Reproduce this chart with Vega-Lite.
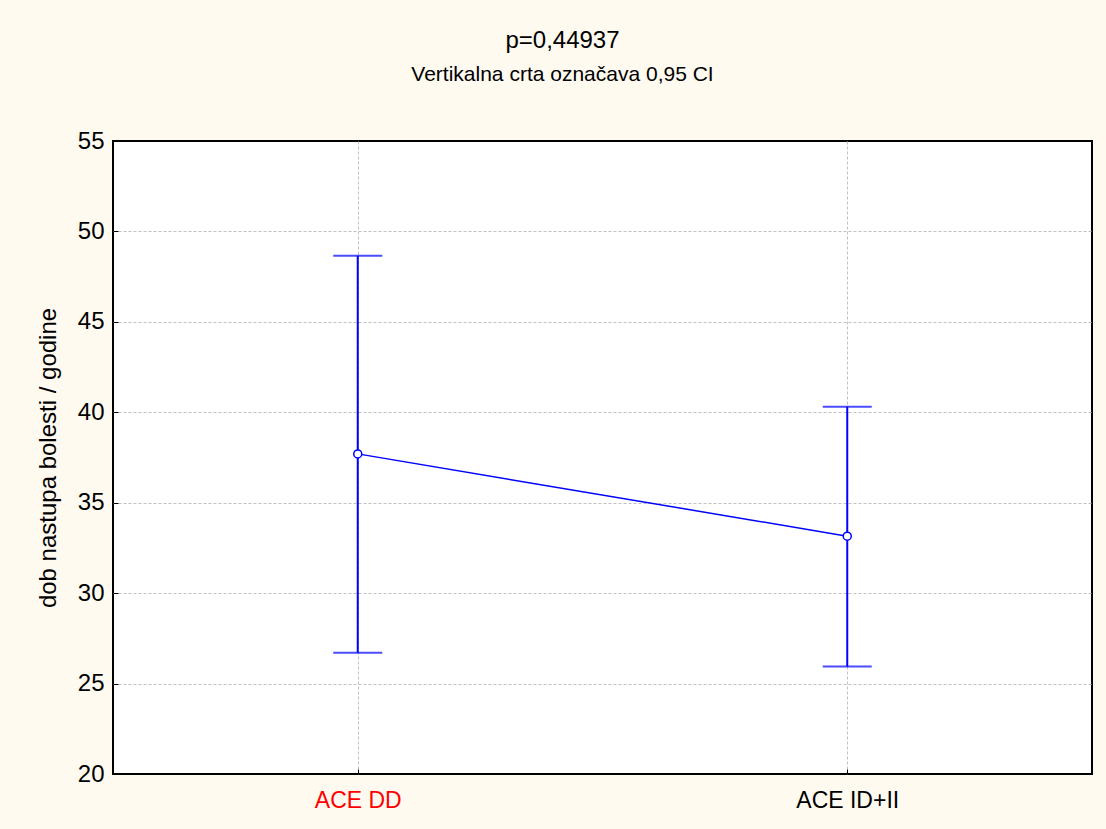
{
  "$schema": "https://vega.github.io/schema/vega-lite/v6.json",
  "width": 979,
  "height": 633,
  "autosize": {"type": "none"},
  "padding": {"left": 113, "top": 141, "right": 14, "bottom": 55},
  "background": "#fffaf0",
  "config": {
    "view": {"fill": "white", "stroke": "black", "strokeWidth": 2},
    "font": "Liberation Sans"
  },
  "title": {
    "text": "p=0,44937",
    "subtitle": "Vertikalna crta označava 0,95 CI",
    "fontSize": 24,
    "subtitleFontSize": 21,
    "fontWeight": "normal",
    "font": "Liberation Sans",
    "subtitleFont": "Liberation Sans",
    "color": "black",
    "subtitleColor": "black",
    "anchor": "middle",
    "dx": -40,
    "offset": 44,
    "subtitlePadding": 11
  },
  "data": {
    "values": [
      {"group": "ACE DD", "mean": 37.7, "lo": 26.7, "hi": 48.65},
      {"group": "ACE ID+II", "mean": 33.15, "lo": 25.95, "hi": 40.3}
    ]
  },
  "encoding": {
    "x": {
      "field": "group",
      "type": "nominal",
      "sort": null,
      "scale": {"type": "point", "padding": 0.5},
      "axis": {
        "title": null,
        "labelAngle": 0,
        "labelFontSize": 23,
        "labelFont": "Liberation Sans",
        "labelColor": {"condition": {"test": "datum.value === 'ACE DD'", "value": "#ff0000"}, "value": "black"},
        "labelPadding": 20,
        "grid": true,
        "gridDash": [3, 2],
        "gridColor": "#c0c0c0",
        "gridWidth": 1,
        "domain": false,
        "tickSize": -5,
        "tickColor": "black",
        "tickWidth": 1
      }
    }
  },
  "layer": [
    {
      "mark": {"type": "line", "color": "#0000ff", "strokeWidth": 1.5},
      "encoding": {
        "y": {
          "field": "mean",
          "type": "quantitative",
          "scale": {"domain": [20, 55], "nice": false, "zero": false},
          "axis": {
            "values": [20, 25, 30, 35, 40, 45, 50, 55],
            "title": "dob nastupa bolesti / godine",
            "titleFontSize": 24,
            "titleFontWeight": "normal",
            "titleFont": "Liberation Sans",
            "titleColor": "black",
            "titlePadding": 17,
            "labelFontSize": 24,
            "labelFont": "Liberation Sans",
            "labelColor": "black",
            "labelPadding": 14,
            "grid": true,
            "gridDash": [3, 2],
            "gridColor": {"condition": {"test": "datum.value === 20 || datum.value === 55", "value": "transparent"}, "value": "#c0c0c0"},
            "gridWidth": 1,
            "domain": false,
            "tickSize": -5,
            "tickColor": "black",
            "tickWidth": 1
          }
        }
      }
    },
    {
      "mark": {"type": "rule", "color": "#0000ff", "strokeWidth": 2},
      "encoding": {
        "y": {"field": "lo", "type": "quantitative"},
        "y2": {"field": "hi"}
      }
    },
    {
      "mark": {"type": "tick", "color": "#0000ff", "size": 49, "thickness": 2, "orient": "horizontal"},
      "encoding": {"y": {"field": "hi", "type": "quantitative"}}
    },
    {
      "mark": {"type": "tick", "color": "#0000ff", "size": 49, "thickness": 2, "orient": "horizontal"},
      "encoding": {"y": {"field": "lo", "type": "quantitative"}}
    },
    {
      "mark": {"type": "point", "filled": true, "fill": "white", "stroke": "#0000ff", "strokeWidth": 1.5, "size": 64, "opacity": 1},
      "encoding": {"y": {"field": "mean", "type": "quantitative"}}
    }
  ]
}
